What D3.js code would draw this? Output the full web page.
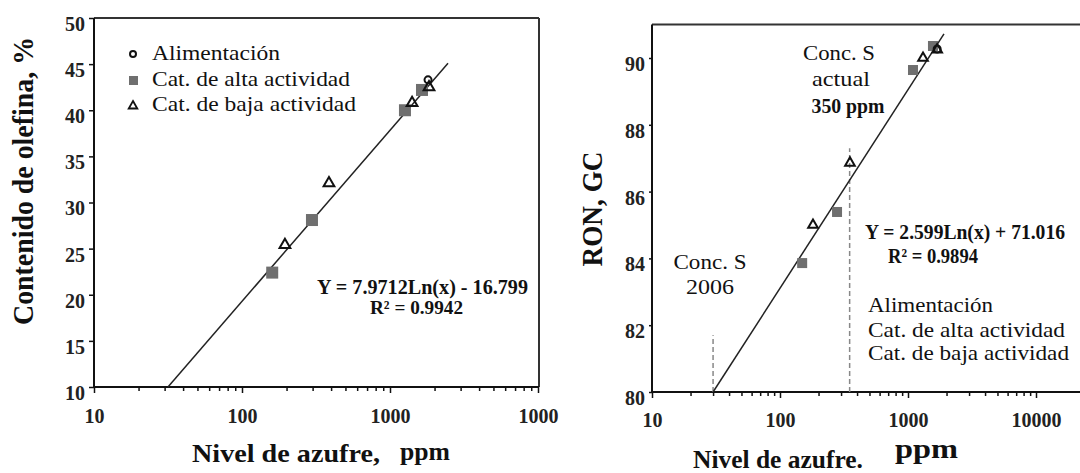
<!DOCTYPE html>
<html>
<head>
<meta charset="utf-8">
<script src="https://cdn.jsdelivr.net/npm/d3@7"></script>
<style>
  body { margin: 0; background: #fff; }
  svg { display: block; }
</style>
</head>
<body>
<div id="chart"></div>
<script>
/************** olefina / RON vs nivel de azufre **************/

// --- panel izquierdo: contenido de olefina ---
var leftAlimX = [1807];
var leftAlimY = [43.3];
var leftAltaX = [160, 297, 1262, 1645];
var leftAltaY = [22.4, 28.1, 40.0, 42.2];
var leftBajaX = [195, 387, 1410, 1835];
var leftBajaY = [25.4, 32.1, 40.8, 42.5];
var leftTrendX = [31.6, 2466];
var leftTrendY = [10, 45.1];
var leftYTicks = [10, 15, 20, 25, 30, 35, 40, 45, 50];
var leftXTicks = [10, 100, 1000, 10000];
var leftXLabels = ['10', '100', '1000', '1000'];

// --- panel derecho: RON ---
var rightAlimX = [1690];
var rightAlimY = [90.27];
var rightAltaX = [149, 279, 1094, 1567];
var rightAltaY = [83.86, 85.39, 89.64, 90.36];
var rightBajaX = [181, 352, 1310, 1690];
var rightBajaY = [85.0, 86.86, 90.0, 90.25];
var rightTrendX = [30, 1910];
var rightTrendY = [80, 90.72];
var rightYTicks = [80, 82, 84, 86, 88, 90];
var rightXTicks = [10, 100, 1000, 10000];
var rightXLabels = ['10', '100', '1000', '10000'];
var concLinesX = [30, 350];
var concLinesTop = [81.7, 87.3];

var minorTicks = [];
[10, 100, 1000].forEach(function (d) {
  for (var k = 2; k <= 9; k++) minorTicks.push(d * k);
});

var width = 1080, height = 473;
var serif = '"Liberation Serif", "DejaVu Serif", "Times New Roman", serif';
var svg = d3.select('#chart').append('svg')
  .attr('width', width)
  .attr('height', height);

var squareFill = '#6f6f6f';

function addText(x, y, str, size, weight, len, anchor) {
  var t = svg.append('text')
    .attr('x', x)
    .attr('y', y)
    .style('font-family', serif)
    .attr('font-size', size + 'px')
    .attr('font-weight', weight)
    .attr('fill', '#111')
    .attr('text-anchor', anchor || 'start')
    .text(str);
  if (len) t.attr('textLength', len).attr('lengthAdjust', 'spacingAndGlyphs');
  return t;
}

function drawPanel(p) {
  var x = p.x, y = p.y;
  var g = svg.append('g');

  // caja superior / derecha
  g.append('line')
    .attr('x1', x.range()[0]).attr('x2', p.boxRight)
    .attr('y1', p.boxTop).attr('y2', p.boxTop)
    .attr('stroke', '#333').attr('stroke-width', 2);
  if (p.drawRight) {
    g.append('line')
      .attr('x1', p.boxRight).attr('x2', p.boxRight)
      .attr('y1', p.boxTop).attr('y2', y.range()[0])
      .attr('stroke', '#333').attr('stroke-width', 2);
  }

  // eje Y
  var ya = g.append('g')
    .attr('transform', 'translate(' + x.range()[0] + ',0)')
    .call(d3.axisLeft(y).tickValues(p.yTicks).tickSize(p.yTickSize).tickPadding(4).tickSizeOuter(0));
  ya.select('.domain').attr('stroke', '#111').attr('stroke-width', 2)
    .attr('d', 'M0,' + y.range()[0] + 'V' + p.boxTop);
  ya.selectAll('.tick line').attr('stroke', '#111').attr('stroke-width', 1.5);
  ya.selectAll('.tick text')
    .style('font-family', serif)
    .attr('font-size', '20px').attr('font-weight', 'bold').attr('fill', '#222')
    .attr('dy', '0.62em');

  // eje X
  var xa = g.append('g')
    .attr('transform', 'translate(0,' + y.range()[0] + ')')
    .call(d3.axisBottom(x).tickValues(p.xTicks).tickSize(6).tickPadding(p.xPad).tickSizeOuter(0)
      .tickFormat(function (d, i) { return p.xLabels[i]; }));
  xa.select('.domain').attr('stroke', '#111').attr('stroke-width', 2)
    .attr('d', 'M' + x.range()[0] + ',0H' + p.boxRight);
  xa.selectAll('.tick line').attr('stroke', '#111').attr('stroke-width', 1.5);
  xa.selectAll('.tick text')
    .style('font-family', serif)
    .attr('font-size', '20px').attr('font-weight', 'bold').attr('fill', '#222');

  var xm = g.append('g')
    .attr('transform', 'translate(0,' + y.range()[0] + ')')
    .call(d3.axisBottom(x).tickValues(minorTicks).tickSize(4).tickFormat(''));
  xm.select('.domain').remove();
  xm.selectAll('.tick line').attr('stroke', '#111').attr('stroke-width', 1.5);

  // lineas de concentracion (solo panel derecho)
  if (p.concX) {
    g.selectAll('.conc').data(p.concX).enter().append('line')
      .attr('x1', function (d) { return x(d); })
      .attr('x2', function (d) { return x(d); })
      .attr('y1', y.range()[0])
      .attr('y2', function (d, i) { return y(p.concTop[i]); })
      .attr('stroke', '#888').attr('stroke-width', 1.5)
      .attr('stroke-dasharray', '5,3');
  }

  // linea de tendencia
  g.append('line')
    .attr('x1', x(p.trendX[0])).attr('y1', y(p.trendY[0]))
    .attr('x2', x(p.trendX[1])).attr('y2', y(p.trendY[1]))
    .attr('stroke', '#222').attr('stroke-width', 1.5);

  // cuadrados - alta actividad
  g.selectAll('.alta').data(p.altaX).enter().append('rect')
    .attr('x', function (d) { return x(d) - p.sq / 2; })
    .attr('y', function (d, i) { return y(p.altaY[i]) - p.sq / 2; })
    .attr('width', p.sq).attr('height', p.sq)
    .attr('fill', squareFill);

  // triangulos - baja actividad
  g.selectAll('.baja').data(p.bajaX).enter().append('path')
    .attr('d', d3.symbol().type(d3.symbolTriangle).size(p.tri))
    .attr('transform', function (d, i) { return 'translate(' + x(d) + ',' + y(p.bajaY[i]) + ')'; })
    .attr('fill', 'none').attr('stroke', '#111').attr('stroke-width', 2);

  // circulos - alimentacion
  g.selectAll('.alim').data(p.alimX).enter().append('circle')
    .attr('cx', function (d) { return x(d); })
    .attr('cy', function (d, i) { return y(p.alimY[i]); })
    .attr('r', 3.5)
    .attr('fill', 'none').attr('stroke', '#111').attr('stroke-width', 2);
}

var xL = d3.scaleLog().domain([10, 10000]).range([94, 538]);
var yL = d3.scaleLinear().domain([10, 50]).range([387, 18]);
drawPanel({
  x: xL, y: yL, boxTop: 18, boxRight: 539, drawRight: true,
  yTicks: leftYTicks, yTickSize: 5, xTicks: leftXTicks, xLabels: leftXLabels, xPad: 16,
  trendX: leftTrendX, trendY: leftTrendY,
  altaX: leftAltaX, altaY: leftAltaY, bajaX: leftBajaX, bajaY: leftBajaY,
  alimX: leftAlimX, alimY: leftAlimY, sq: 12, tri: 50
});

var xR = d3.scaleLog().domain([10, 10000]).range([652, 1036]);
var yR = d3.scaleLinear().domain([80, 91]).range([392, 24.6]);
drawPanel({
  x: xR, y: yR, boxTop: 24.6, boxRight: 1082, drawRight: false,
  yTicks: rightYTicks, yTickSize: 3, xTicks: rightXTicks, xLabels: rightXLabels, xPad: 15,
  trendX: rightTrendX, trendY: rightTrendY, concX: concLinesX, concTop: concLinesTop,
  altaX: rightAltaX, altaY: rightAltaY, bajaX: rightBajaX, bajaY: rightBajaY,
  alimX: rightAlimX, alimY: rightAlimY, sq: 10, tri: 40
});

// leyenda izquierda
svg.append('circle').attr('cx', 133).attr('cy', 54).attr('r', 3)
  .attr('fill', 'none').attr('stroke', '#111').attr('stroke-width', 2);
svg.append('rect').attr('x', 129).attr('y', 76).attr('width', 9).attr('height', 9).attr('fill', squareFill);
svg.append('path').attr('d', d3.symbol().type(d3.symbolTriangle).size(32))
  .attr('transform', 'translate(133,106)')
  .attr('fill', 'none').attr('stroke', '#111').attr('stroke-width', 1.8);
addText(152, 60, 'Alimentación', 22, 'normal', 128);
addText(152, 86, 'Cat. de alta actividad', 22, 'normal', 198);
addText(152, 111, 'Cat. de baja actividad', 22, 'normal', 204);

// ecuacion izquierda
addText(317, 294, 'Y = 7.9712Ln(x) - 16.799', 21, 'bold', 211);
addText(370, 314, 'R² = 0.9942', 19, 'bold', 93);

// titulos izquierda
addText(0, 0, 'Contenido de olefina, %', 29, 'bold', 288, 'middle')
  .attr('transform', 'translate(33,181) rotate(-90)');
addText(192, 462, 'Nivel de azufre,', 26, 'bold', 188);
addText(400, 460, 'ppm', 26, 'bold', 50);

// anotaciones derecha
addText(839, 60, 'Conc. S', 22, 'normal', 72, 'middle');
addText(841, 86, 'actual', 22, 'normal', 58, 'middle');
addText(848, 113, '350 ppm', 21, 'bold', 73, 'middle');
addText(710, 269, 'Conc. S', 22, 'normal', 73, 'middle');
addText(710, 294, '2006', 22, 'normal', 48, 'middle');

addText(865, 239, 'Y = 2.599Ln(x) + 71.016', 20, 'bold', 200);
addText(888, 263, 'R² = 0.9894', 21, 'bold', 90);

addText(868, 312, 'Alimentación', 22, 'normal', 125);
addText(868, 337, 'Cat. de alta actividad', 22, 'normal', 197);
addText(868, 360, 'Cat. de baja actividad', 22, 'normal', 201);

// titulos derecha
addText(0, 0, 'RON, GC', 30, 'bold', 115, 'middle')
  .attr('transform', 'translate(602,209) rotate(-90)');
addText(693, 468, 'Nivel de azufre.', 26, 'bold', 170);
addText(895, 458, 'ppm', 28, 'bold', 63);
</script>
</body>
</html>
